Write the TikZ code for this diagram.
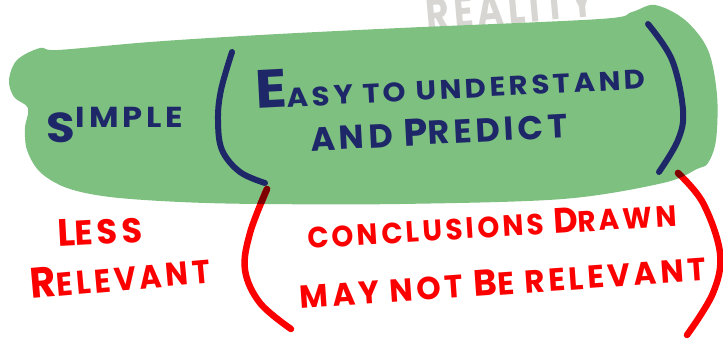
\documentclass[tikz,border=0pt]{standalone}
\usepackage{fontspec}
\setmainfont{Poppins}
\definecolor{blob}{RGB}{126,192,128}
\definecolor{ink}{RGB}{30,40,105}
\definecolor{pen}{RGB}{252,0,0}
\definecolor{penshade}{RGB}{126,0,0}
\definecolor{pencil}{RGB}{216,214,210}
% enlarged initial letter of a hand-lettered word
\newcommand\Ini[2]{\scalebox{#1}{#2}}
% outline of the green region
\def\blobpath{plot[smooth cycle, tension=0.55] coordinates {
  (28,108) (14,97) (9,80) (17,60) (40,48) (58,50) (150,42) (260,35)
  (400,28) (600,19) (632,12) (655,5) (685,20) (708,50) (717,95)
  (716,140) (708,163) (697,169) (663,183) (563,199) (400,204)
  (260,204) (180,202) (110,197) (67,188) (40,172) (27,150) (25,128)}}
\def\redleft{plot[smooth, tension=0.6] coordinates {(267,189) (250,233) (245,270) (260,303) (291,329)}}
\def\redright{plot[smooth, tension=0.6] coordinates {(678,173) (703,203) (720,253) (713,293) (687,335)}}
\tikzset{
  hand/.style={inner sep=0pt, font=\bfseries\addfontfeatures{LetterSpace=12}},
  paren/.style={line width=6pt, line cap=round, line join=round, ink},
  bracket/.style={line width=6.5pt, line cap=round, line join=round},
}
\begin{document}
\begin{tikzpicture}[x=1pt,y=-1pt]
\useasboundingbox (0,0) rectangle (723,347);
% faint pencil word behind everything
\node[hand, pencil, rotate=5] (reality) at (510,8) {\resizebox*{168pt}{32pt}{REALITY}};
% green region
\fill[blob] \blobpath;
% navy parentheses
\draw[paren] plot[smooth, tension=0.6] coordinates {(232,52) (221,90) (218,120) (222,150) (240,172) (265,183)};
\draw[paren] plot[smooth, tension=0.6] coordinates {(648,24) (672,60) (683,110) (678,140) (659,172)};
% navy lettering
\node[hand, ink] (simple) at (115,125) {\resizebox*{136pt}{35pt}{\raisebox{-5pt}{\Ini{1.45}{S}}IMPLE}};
\node[hand, ink, rotate=3] (easy) at (450,80) {\resizebox*{390pt}{38pt}{\Ini{2}{E}ASY TO UNDERSTAND}};
\node[hand, ink, rotate=3] (predict) at (439,131) {\resizebox*{257pt}{27pt}{AND \Ini{1.15}{P}REDICT}};
% red brackets, darker where they cross the green
\draw[bracket, pen] \redleft;
\draw[bracket, pen] \redright;
\begin{scope}
  \clip \blobpath;
  \draw[bracket, penshade] \redleft;
  \draw[bracket, penshade] \redright;
\end{scope}
% red lettering
\node[hand, pen, rotate=3] (less) at (100,231) {\resizebox*{85pt}{27pt}{\Ini{1.1}{L}ESS}};
\node[hand, pen, rotate=5] (relevant) at (120,276) {\resizebox*{180pt}{30pt}{\Ini{1.3}{R}ELEVANT}};
\node[hand, pen, rotate=3.5] (drawn) at (492,225) {\resizebox*{370pt}{25pt}{CONCLUSIONS \Ini{1.2}{D}RAWN}};
\node[hand, pen, rotate=4] (notrel) at (503,282) {\resizebox*{407pt}{26pt}{MAY NOT \Ini{1.15}{B}E RELEVANT}};
\end{tikzpicture}
\end{document}
